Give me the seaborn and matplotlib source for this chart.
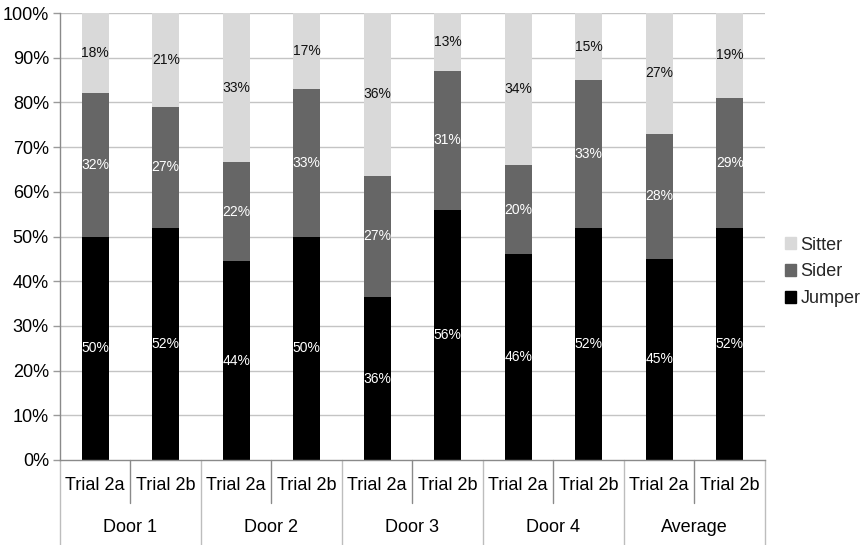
import matplotlib
matplotlib.use("Agg")
import matplotlib.pyplot as plt
import matplotlib.transforms as mtransforms
from matplotlib.patches import Patch
import numpy as np
import pandas as pd
import seaborn as sns

# Data: share of each behaviour type per trial (labelled percentages)
groups = ["Door 1", "Door 2", "Door 3", "Door 4", "Average"]
trials = ["Trial 2a", "Trial 2b"]
jumper = [50, 52, 44, 50, 36, 56, 46, 52, 45, 52]
sider = [32, 27, 22, 33, 27, 31, 20, 33, 28, 29]
sitter = [18, 21, 33, 17, 36, 13, 34, 15, 27, 19]
y_ticks = [0, 10, 20, 30, 40, 50, 60, 70, 80, 90, 100]

colors = {"Jumper": "#000000", "Sider": "#666666", "Sitter": "#d9d9d9"}

sns.set_theme(style="white")
plt.rcParams["font.family"] = ["Liberation Sans", "DejaVu Sans"]

keys = [f"{g}|{t}" for g in groups for t in trials]
raw = np.array([jumper, sider, sitter], dtype=float)
share = raw / raw.sum(axis=0) * 100  # normalise each column to 100 %
cum_j = share[0]
cum_s = share[0] + share[1]
cum_t = share.sum(axis=0)

df = pd.DataFrame({"key": keys, "jumper": cum_j, "sider": cum_s, "sitter": cum_t})

fig = plt.figure(figsize=(8.62, 5.45), dpi=100)
ax = fig.add_axes([60 / 862, 1 - 460 / 545, 705 / 862, 447 / 545])

bw = 0.385
for col, name in [("sitter", "Sitter"), ("sider", "Sider"), ("jumper", "Jumper")]:
    sns.barplot(data=df, x="key", y=col, order=keys, color=colors[name],
                saturation=1, width=bw, ax=ax, linewidth=0)

ax.set_xlim(-0.5, len(keys) - 0.5)
ax.set_ylim(0, 100)
ax.set_yticks(y_ticks)
ax.set_yticklabels([f"{v}%" for v in y_ticks], fontsize=13, color="#000000")
ax.set_xticks([])
ax.set_xlabel("")
ax.set_ylabel("")
ax.tick_params(axis="y", length=5, width=1, color="#9a9a9a", pad=3, left=True)
for v in y_ticks[1:]:
    ax.axhline(v, color="#c4c4c4", lw=1, zorder=0)
for s in ["top", "right"]:
    ax.spines[s].set_visible(False)
for s in ["left", "bottom"]:
    ax.spines[s].set_color("#8a8a8a")
    ax.spines[s].set_linewidth(1)

# Segment labels
for i in range(len(keys)):
    ax.text(i, cum_j[i] / 2, f"{jumper[i]}%", ha="center", va="center",
            color="white", fontsize=10)
    ax.text(i, (cum_j[i] + cum_s[i]) / 2, f"{sider[i]}%", ha="center",
            va="center", color="white", fontsize=10)
    ax.text(i, (cum_s[i] + cum_t[i]) / 2, f"{sitter[i]}%", ha="center",
            va="center", color="#111111", fontsize=10)

# Two-level category axis
trans = mtransforms.blended_transform_factory(ax.transData, ax.transAxes)
y_trial_end = -43 / 447
y_group_end = -86 / 447
for i, k in enumerate(keys):
    ax.text(i, -25 / 447, k.split("|")[1], transform=trans, ha="center",
            va="center", fontsize=13, color="#000000")
for gi, g in enumerate(groups):
    ax.text(gi * 2 + 0.5, -67 / 447, g, transform=trans, ha="center",
            va="center", fontsize=13, color="#000000")
for x in np.arange(0.5, len(keys), 2):
    ax.plot([x, x], [0, y_trial_end], transform=trans, color="#8a8a8a",
            lw=1, clip_on=False)
for x in np.arange(-0.5, len(keys) + 0.5, 2):
    ax.plot([x, x], [0, y_group_end], transform=trans, color="#bdbdbd",
            lw=1, clip_on=False)

handles = [Patch(color=colors[n], label=n) for n in ["Sitter", "Sider", "Jumper"]]
fig.legend(handles=handles, loc="center left",
           bbox_to_anchor=(778 / 862, 1 - 272 / 545), frameon=False,
           fontsize=13, handlelength=0.6, handleheight=0.6,
           handletextpad=0.25, labelspacing=0.55, borderaxespad=0)

fig.savefig("out.png", dpi=100, facecolor="white")
